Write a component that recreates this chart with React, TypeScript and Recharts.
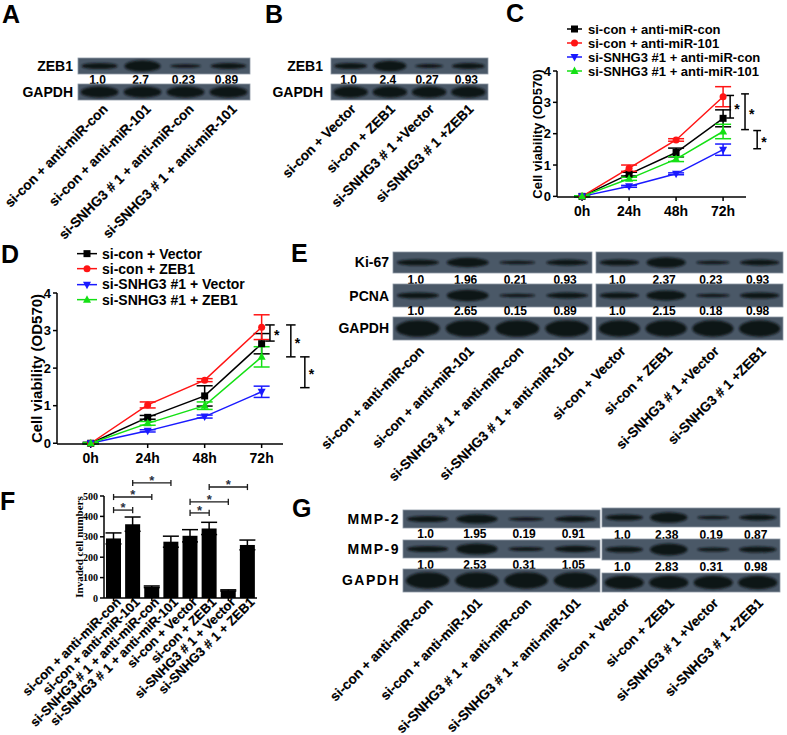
import React from 'react';
import { LineChart, Line, XAxis, YAxis, ErrorBar, ReferenceLine, Legend, BarChart, Bar } from 'recharts';

const FONT = '"Liberation Sans", Arial, Helvetica, sans-serif';
const SERIF = '"Liberation Serif", "Times New Roman", serif';

// ---- C / D : cell viability time course
const hours = [0, 24, 48, 72];

const cNames = ['si-con + anti-miR-con', 'si-con + anti-miR-101', 'si-SNHG3 #1 + anti-miR-con', 'si-SNHG3 #1 + anti-miR-101'];
const cConMean = [0, 0.71, 1.4, 2.49];
const cConErr = [0.02, 0.06, 0.14, 0.27];
const cMirMean = [0, 0.9, 1.8, 3.18];
const cMirErr = [0.02, 0.1, 0.04, 0.32];
const cSiMean = [0, 0.32, 0.72, 1.49];
const cSiErr = [0.02, 0.03, 0.03, 0.18];
const cSiMirMean = [0, 0.56, 1.19, 2.07];
const cSiMirErr = [0.02, 0.05, 0.08, 0.23];

const dNames = ['si-con + Vector', 'si-con + ZEB1', 'si-SNHG3 #1 + Vector', 'si-SNHG3 #1 + ZEB1'];
const dConMean = [0, 0.69, 1.26, 2.65];
const dConErr = [0.02, 0.05, 0.27, 0.27];
const dZebMean = [0, 1.02, 1.68, 3.09];
const dZebErr = [0.02, 0.08, 0.04, 0.33];
const dSiMean = [0, 0.33, 0.71, 1.37];
const dSiErr = [0.02, 0.03, 0.04, 0.15];
const dSiZebMean = [0, 0.53, 1.0, 2.3];
const dSiZebErr = [0.02, 0.05, 0.1, 0.27];

// significance brackets (x in hours, y in OD570)
const cBrackets = [
  { x: 75.6, y1: 3.22, y2: 2.5 },
  { x: 83.2, y1: 3.27, y2: 2.13 },
  { x: 89.4, y1: 2.1, y2: 1.52 },
];
const dBrackets = [
  { x: 75.5, y1: 3.15, y2: 2.72 },
  { x: 84.3, y1: 3.15, y2: 2.3 },
  { x: 90.2, y1: 2.3, y2: 1.48 },
];

// ---- F : invasion
const fGroups = [
  'si-con + anti-miR-con', 'si-con + anti-miR-101', 'si-SNHG3 # 1 + anti-miR-con', 'si-SNHG3 # 1 + anti-miR-101',
  'si-con + Vector', 'si-con + ZEB1', 'si-SNHG3 # 1 + Vector', 'si-SNHG3 # 1 + ZEB1',
];
const fMeans = [292, 362, 55, 276, 305, 341, 37, 260];
const fErrs = [27, 35, 4, 27, 30, 30, 3, 24];
const fBrackets = [
  { from: 0, to: 1, y: 431 },
  { from: 0, to: 2, y: 495 },
  { from: 1, to: 3, y: 564 },
  { from: 4, to: 5, y: 417 },
  { from: 4, to: 6, y: 471 },
  { from: 5, to: 7, y: 544 },
];

// ---- blots : lane names and band quantification
const mirLanes = ['si-con + anti-miR-con', 'si-con + anti-miR-101', 'si-SNHG3 # 1 + anti-miR-con', 'si-SNHG3 # 1 + anti-miR-101'];
const zebLanes = ['si-con + Vector', 'si-con + ZEB1', 'si-SNHG3 # 1 +Vector', 'si-SNHG3 # 1 +ZEB1'];
const aZeb1 = ['1.0', '2.7', '0.23', '0.89'];
const bZeb1 = ['1.0', '2.4', '0.27', '0.93'];
const eKi67 = ['1.0', '1.96', '0.21', '0.93', '1.0', '2.37', '0.23', '0.93'];
const ePcna = ['1.0', '2.65', '0.15', '0.89', '1.0', '2.15', '0.18', '0.98'];
const gMmp2 = ['1.0', '1.95', '0.19', '0.91', '1.0', '2.38', '0.19', '0.87'];
const gMmp9 = ['1.0', '2.53', '0.31', '1.05', '1.0', '2.83', '0.31', '0.98'];

const STYLE = [
  { color: '#000000', shape: 'square' },
  { color: '#ff1414', shape: 'circle' },
  { color: '#1a1aff', shape: 'down' },
  { color: '#14e014', shape: 'up' },
];

const toRows = (m: number[][], e: number[][]) =>
  hours.map((h, i) => {
    const row: any = { h };
    m.forEach((s, k) => {
      row[`s${k}`] = s[i];
      row[`e${k}`] = e[k][i];
    });
    return row;
  });

const cData = toRows([cConMean, cMirMean, cSiMean, cSiMirMean], [cConErr, cMirErr, cSiErr, cSiMirErr]);
const dData = toRows([dConMean, dZebMean, dSiMean, dSiZebMean], [dConErr, dZebErr, dSiErr, dSiZebErr]);
const fData = fGroups.map((name, i) => ({ name, v: fMeans[i], e: fErrs[i] }));

function Marker({ cx, cy, shape, color, s = 3.5 }: any) {
  if (cx == null || cy == null) return null;
  if (shape === 'square') return <rect x={cx - s} y={cy - s} width={2 * s} height={2 * s} fill={color} />;
  if (shape === 'circle') return <circle cx={cx} cy={cy} r={s} fill={color} />;
  if (shape === 'down')
    return <polygon points={`${cx - s - 0.5},${cy - s + 0.5} ${cx + s + 0.5},${cy - s + 0.5} ${cx},${cy + s + 1}`} fill={color} />;
  return <polygon points={`${cx - s - 0.5},${cy + s - 0.5} ${cx + s + 0.5},${cy + s - 0.5} ${cx},${cy - s - 1}`} fill={color} />;
}

function SeriesLegend({ names, fontSize, rowH, sampleW, gap }: any) {
  return (
    <div style={{ fontFamily: FONT, fontWeight: 'bold', fontSize, color: '#000' }}>
      {names.map((n: string, i: number) => (
        <div key={n} style={{ display: 'flex', alignItems: 'center', height: rowH, whiteSpace: 'nowrap' }}>
          <svg width={sampleW} height={rowH} style={{ marginRight: gap, flex: 'none' }}>
            <line x1={0} x2={sampleW} y1={rowH / 2} y2={rowH / 2} stroke={STYLE[i].color} strokeWidth={1.5} />
            <Marker cx={sampleW / 2} cy={rowH / 2} shape={STYLE[i].shape} color={STYLE[i].color} />
          </svg>
          <span>{n}</span>
        </div>
      ))}
    </div>
  );
}

const axisStroke = { stroke: '#000', strokeWidth: 1.5 };

function TimeChart(p: any) {
  const star = { value: '*', position: 'right', offset: 4, fill: '#000', fontSize: 14, fontWeight: 'bold', fontFamily: FONT, dy: 2 };
  return (
    <LineChart width={p.width} height={p.height} data={p.data} margin={p.margin}>
      <XAxis
        type="number"
        dataKey="h"
        domain={p.xDomain}
        allowDataOverflow
        ticks={hours}
        tickFormatter={(v: number) => `${v}h`}
        height={25}
        tickSize={4}
        tickMargin={5}
        axisLine={axisStroke}
        tickLine={axisStroke}
        tick={{ fill: '#000', fontSize: p.tickFont, fontWeight: 'bold', fontFamily: FONT }}
      />
      <YAxis
        type="number"
        domain={[0, 4]}
        ticks={[0, 1, 2, 3, 4]}
        width={57}
        tickSize={4}
        tickMargin={2}
        axisLine={axisStroke}
        tickLine={axisStroke}
        tick={{ fill: '#000', fontSize: p.tickFont - 1, fontWeight: 'bold', fontFamily: FONT }}
        label={{
          value: 'Cell viability (OD570)',
          angle: -90,
          position: 'insideLeft',
          offset: 37,
          style: { textAnchor: 'middle' },
          fill: '#000',
          fontSize: p.labelFont,
          fontWeight: 'bold',
          fontFamily: FONT,
        }}
      />
      <Legend
        layout="vertical"
        align="center"
        verticalAlign="middle"
        wrapperStyle={{ left: p.legend.left, top: p.legend.top, width: 240, height: 'auto' }}
        content={() => (
          <SeriesLegend names={p.names} fontSize={p.legend.font} rowH={p.legend.rowH} sampleW={p.legend.sampleW} gap={p.legend.gap} />
        )}
      />
      {p.names.map((n: string, i: number) => (
        <Line
          key={n}
          name={n}
          dataKey={`s${i}`}
          type="linear"
          stroke={STYLE[i].color}
          strokeWidth={1.5}
          isAnimationActive={false}
          activeDot={false}
          dot={(d: any) => <Marker key={`${n}-${d.index}`} cx={d.cx} cy={d.cy} shape={STYLE[i].shape} color={STYLE[i].color} />}
        >
          <ErrorBar dataKey={`e${i}`} width={8} stroke={STYLE[i].color} strokeWidth={1.5} direction="y" />
        </Line>
      ))}
      {p.brackets.flatMap((b: any, i: number) => [
        <ReferenceLine key={`v${i}`} segment={[{ x: b.x, y: b.y1 }, { x: b.x, y: b.y2 }]} stroke="#000" strokeWidth={1.5} ifOverflow="visible" label={star} />,
        <ReferenceLine key={`t${i}`} segment={[{ x: b.x - 2, y: b.y1 }, { x: b.x + 2, y: b.y1 }]} stroke="#000" strokeWidth={1.5} ifOverflow="visible" />,
        <ReferenceLine key={`b${i}`} segment={[{ x: b.x - 2, y: b.y2 }, { x: b.x + 2, y: b.y2 }]} stroke="#000" strokeWidth={1.5} ifOverflow="visible" />,
      ])}
    </LineChart>
  );
}

function SlantTick({ x, y, payload }: any) {
  return (
    <g transform={`translate(${x + 8},${y})`}>
      <text textAnchor="end" transform="rotate(-45)" fontFamily={FONT} fontWeight="bold" fontSize={13} fill="#000" stroke="#000" strokeWidth={0.2}>
        {payload.value}
      </text>
    </g>
  );
}

function InvasionChart() {
  const cap = 15;
  return (
    <BarChart width={290} height={265} data={fData} margin={{ top: 26, right: 33, bottom: 0, left: 0 }}>
      <XAxis dataKey="name" interval={0} height={137} tickSize={3} tickMargin={2} axisLine={axisStroke} tickLine={axisStroke} tick={<SlantTick />} />
      <YAxis
        domain={[0, 500]}
        ticks={[0, 100, 200, 300, 400, 500]}
        width={104}
        tickSize={4}
        tickMargin={2}
        axisLine={axisStroke}
        tickLine={axisStroke}
        tick={{ fill: '#000', fontSize: 10, fontWeight: 'bold', fontFamily: SERIF }}
        label={{
          value: 'Invaded cell numbers',
          angle: -90,
          position: 'insideLeft',
          offset: 79,
          style: { textAnchor: 'middle' },
          fill: '#000',
          fontSize: 11,
          fontWeight: 'bold',
          fontFamily: SERIF,
        }}
      />
      <Bar dataKey="v" fill="#000" barSize={15} isAnimationActive={false}>
        <ErrorBar dataKey="e" width={8} stroke="#000" strokeWidth={1.5} direction="y" />
      </Bar>
      {fBrackets.flatMap((b, i) => {
        const a = fGroups[b.from];
        const z = fGroups[b.to];
        return [
          <ReferenceLine
            key={`h${i}`}
            segment={[{ x: a, y: b.y }, { x: z, y: b.y }]}
            stroke="#1a1a1a"
            strokeWidth={1.3}
            ifOverflow="visible"
            label={{ value: '*', position: 'top', offset: -2, fill: '#2a3140', fontSize: 13, fontWeight: 'bold', fontFamily: FONT }}
          />,
          <ReferenceLine key={`l${i}`} segment={[{ x: a, y: b.y - cap }, { x: a, y: b.y + cap }]} stroke="#1a1a1a" strokeWidth={1.3} ifOverflow="visible" />,
          <ReferenceLine key={`r${i}`} segment={[{ x: z, y: b.y - cap }, { x: z, y: b.y + cap }]} stroke="#1a1a1a" strokeWidth={1.3} ifOverflow="visible" />,
        ];
      })}
    </BarChart>
  );
}

// ---- western blot strips (drawn as plain svg)
const BLOT_BG = '#4a5867';
const BAND = '#0f1418';

function Blot({ boxes, rowLabels, quants, labelRight, labelY, spacing = 0, lanes, laneDx, laneY, angle, numDx = -2 }: any) {
  const out: any[] = [];
  const centers: number[] = [];
  boxes.forEach((b: any, bi: number) => {
    const lw = b.w / 4;
    b.rows.forEach((r: any, ri: number) => {
      out.push(<rect key={`bg${bi}-${ri}`} x={b.x} y={r.y} width={b.w} height={r.h} fill={BLOT_BG} stroke="#8e9aa5" strokeWidth={0.8} />);
      for (let j = 0; j < 4; j++) {
        const cx = b.x + (j + 0.5) * lw;
        const cy = r.y + r.h / 2;
        const q = quants[ri];
        let rx = lw * 0.44;
        let ry = r.h * 0.36;
        if (q) {
          const v = parseFloat(q[bi * 4 + j]);
          ry = Math.min(1.5 + 1.6 * v, r.h * 0.42);
          rx = lw * (v < 0.5 ? 0.36 : 0.42);
        }
        out.push(<ellipse key={`band${bi}-${ri}-${j}`} cx={cx} cy={cy} rx={rx} ry={ry} fill={BAND} filter="url(#soft)" />);
        if (q)
          out.push(
            <text key={`n${bi}-${ri}-${j}`} x={cx + numDx} y={b.numY[ri]} textAnchor="middle" fontFamily={FONT} fontWeight="bold" fontSize={12} fill="#000">
              {q[bi * 4 + j]}
            </text>,
          );
      }
    });
    for (let j = 0; j < 4; j++) centers.push(b.x + (j + 0.5) * lw);
  });
  rowLabels.forEach((l: string, i: number) =>
    out.push(
      <text key={`lab${i}`} x={labelRight} y={labelY[i]} textAnchor="end" dominantBaseline="central" fontFamily={FONT} fontWeight="bold" fontSize={14} letterSpacing={spacing} fill="#000">
        {l}
      </text>,
    ),
  );
  centers.forEach((cx, i) =>
    out.push(
      <text
        key={`lane${i}`}
        transform={`translate(${cx + laneDx},${laneY}) rotate(${angle})`}
        textAnchor="end"
        fontFamily={FONT}
        fontWeight="bold"
        fontSize={13.6}
        fill="#000"
        stroke="#000"
        strokeWidth={0.2}
      >
        {lanes[i]}
      </text>,
    ),
  );
  return <g>{out}</g>;
}

const letters = [
  { t: 'A', x: 2, y: 23 },
  { t: 'B', x: 265, y: 23 },
  { t: 'C', x: 506, y: 22 },
  { t: 'D', x: 1, y: 263 },
  { t: 'E', x: 291, y: 262 },
  { t: 'F', x: 0, y: 510 },
  { t: 'G', x: 292, y: 517 },
];

export default function App() {
  const allLanes = [...mirLanes, ...zebLanes];
  return (
    <div style={{ position: 'absolute', left: 0, top: 0, width: 787, height: 735, background: '#fff', overflow: 'hidden' }}>
      <div style={{ position: 'absolute', left: 500, top: 0 }}>
        <TimeChart
          width={287}
          height={230}
          data={cData}
          names={cNames}
          margin={{ top: 71, right: 41, bottom: 8, left: 0 }}
          xDomain={[-12.8, 83.7]}
          brackets={cBrackets}
          tickFont={14}
          labelFont={13}
          legend={{ left: 67, top: 22, font: 13, rowH: 14, sampleW: 15, gap: 6 }}
        />
      </div>
      <div style={{ position: 'absolute', left: 0, top: 230 }}>
        <TimeChart
          width={330}
          height={250}
          data={dData}
          names={dNames}
          margin={{ top: 63, right: 47, bottom: 11, left: 0 }}
          xDomain={[-14.2, 81]}
          brackets={dBrackets}
          tickFont={14}
          labelFont={15}
          legend={{ left: 77, top: 16, font: 14, rowH: 15.3, sampleW: 20, gap: 5 }}
        />
      </div>
      <div style={{ position: 'absolute', left: 0, top: 470 }}>
        <InvasionChart />
      </div>
      <svg width={787} height={735} style={{ position: 'absolute', left: 0, top: 0, pointerEvents: 'none' }}>
        <defs>
          <filter id="soft" x="-20%" y="-60%" width="140%" height="220%">
            <feGaussianBlur stdDeviation="1.1" />
          </filter>
        </defs>
        {letters.map((l) => (
          <text key={l.t} x={l.x} y={l.y} fontFamily={FONT} fontWeight="bold" fontSize={25} fill="#000">
            {l.t}
          </text>
        ))}
        <Blot
          boxes={[{ x: 78, w: 172, rows: [{ y: 58, h: 16 }, { y: 84, h: 16 }], numY: [84] }]}
          rowLabels={['ZEB1', 'GAPDH']}
          quants={[aZeb1]}
          labelRight={73}
          labelY={[66, 92]}
          lanes={mirLanes}
          laneDx={9}
          laneY={110}
          angle={-45}
        />
        <Blot
          boxes={[{ x: 331, w: 157, rows: [{ y: 58, h: 16 }, { y: 84, h: 16 }], numY: [84] }]}
          rowLabels={['ZEB1', 'GAPDH']}
          quants={[bZeb1]}
          labelRight={323}
          labelY={[66, 92]}
          lanes={zebLanes}
          laneDx={6}
          laneY={110}
          angle={-45}
        />
        <Blot
          boxes={[
            { x: 393, w: 199, rows: [{ y: 252, h: 21 }, { y: 284, h: 23 }, { y: 317, h: 23 }], numY: [284, 315] },
            { x: 596, w: 187, rows: [{ y: 252, h: 21 }, { y: 284, h: 23 }, { y: 317, h: 23 }], numY: [284, 315] },
          ]}
          rowLabels={['Ki-67', 'PCNA', 'GAPDH']}
          quants={[eKi67, ePcna]}
          labelRight={389}
          labelY={[262, 296, 328]}
          lanes={allLanes}
          laneDx={7}
          laneY={352}
          angle={-45}
        />
        <Blot
          boxes={[
            { x: 403, w: 197, rows: [{ y: 510, h: 18 }, { y: 540, h: 18 }, { y: 569, h: 23 }], numY: [538, 569] },
            { x: 602, w: 178, rows: [{ y: 508, h: 19 }, { y: 539, h: 21 }, { y: 573, h: 19 }], numY: [539, 571] },
          ]}
          rowLabels={['MMP-2', 'MMP-9', 'GAPDH']}
          quants={[gMmp2, gMmp9]}
          labelRight={400}
          labelY={[519, 549, 580]}
          spacing={1.5}
          lanes={allLanes}
          laneDx={6}
          laneY={604}
          angle={-45}
        />
      </svg>
    </div>
  );
}
